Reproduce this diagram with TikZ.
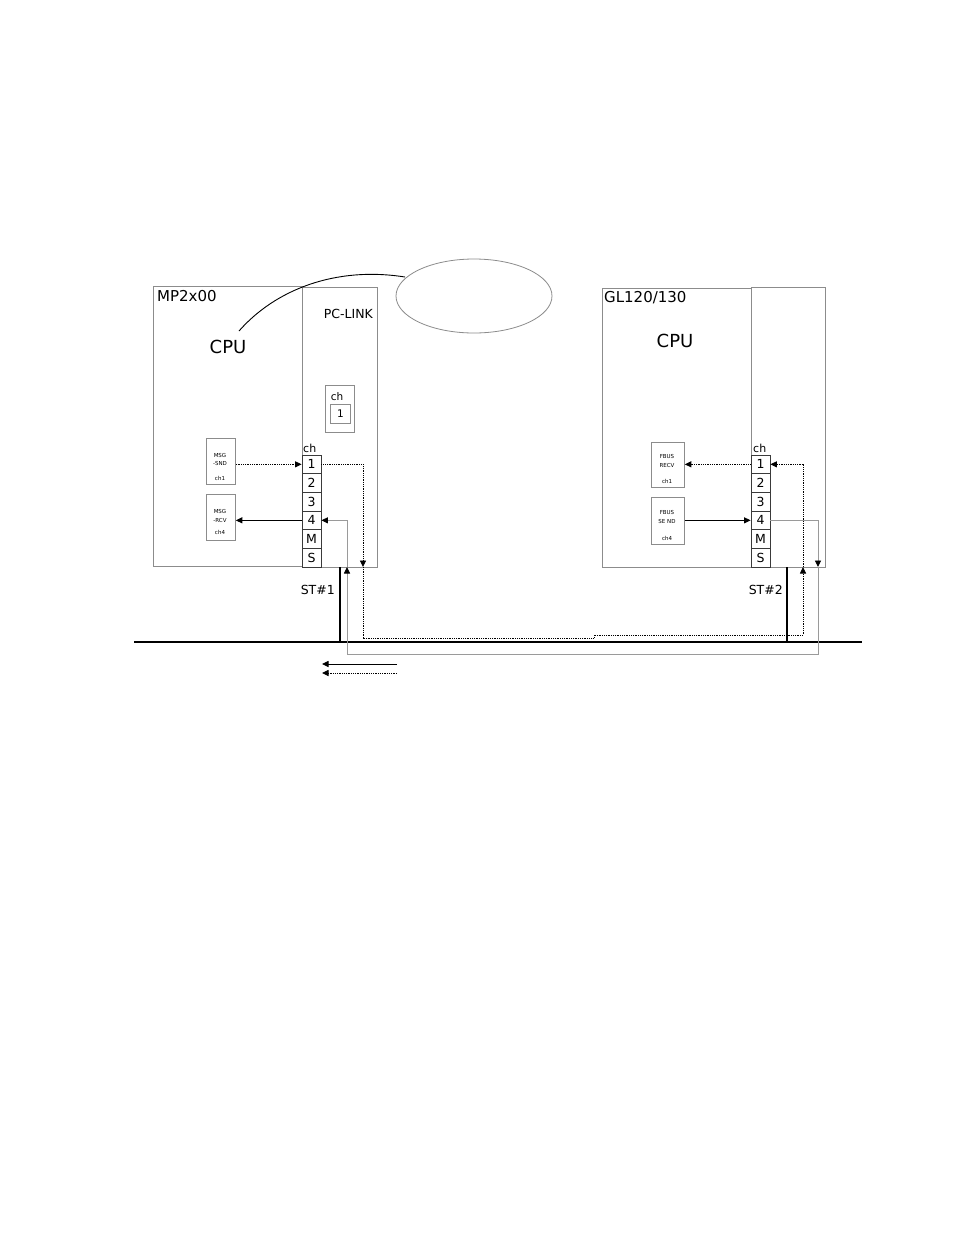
\documentclass[tikz,border=0pt]{standalone}
\usepackage{fontspec}
\setmainfont{DejaVu Sans}
\usetikzlibrary{arrows.meta}
\definecolor{boxgray}{HTML}{8C8C8C}
\definecolor{linegray}{HTML}{9A9A9A}
\definecolor{celldark}{HTML}{3A3A3A}
\begin{document}
\begin{tikzpicture}[x=1pt,y=-1pt,
  frame/.style={draw=boxgray, line width=0.9pt, inner sep=0pt, anchor=north west},
  slotcell/.style={draw=celldark, line width=0.8pt, minimum width=19pt, minimum height=18.67pt, inner sep=0pt, font=\fontsize{12.5}{12.5}\selectfont},
  fbox/.style={draw=boxgray, line width=0.8pt, inner sep=0pt, anchor=north west},
  tiny/.style={font=\fontsize{5.5}{5.5}\selectfont, inner sep=0pt},
  tip/.style={-{Triangle[length=6.5pt,width=6pt,color=black]}},
  dotline/.style={line width=0.9pt, dash pattern=on 0.9pt off 0.9pt},
  grayline/.style={draw=linegray, line width=0.9pt},
  thickline/.style={line width=2.3pt}
]
\path[fill=white] (0,0) rectangle (954,1235);
\useasboundingbox (0,0) rectangle (954,1235);

% main boxes
\node[frame, minimum width=149pt, minimum height=280pt] (mp) at (153,286) {};
\node[frame, minimum width=75pt, minimum height=280pt] (pcl) at (302,287) {};
\node[frame, minimum width=149pt, minimum height=279pt] (gl) at (602,288) {};
\node[frame, minimum width=74pt, minimum height=280pt] (rmod) at (751,287) {};

% titles
\node[anchor=base west, inner sep=0pt, font=\fontsize{15}{15}\selectfont] (tmp) at (157,301) {MP2x00};
\node[anchor=base east, inner sep=0pt, font=\fontsize{12.5}{12.5}\selectfont] (tpcl) at (373,318) {PC-LINK};
\node[anchor=base west, inner sep=0pt, font=\fontsize{15}{15}\selectfont] (tgl) at (604,302) {GL120/130};
\node[inner sep=0pt, font=\fontsize{18}{18}\selectfont] (cpuL) at (228,347) {CPU};
\node[inner sep=0pt, font=\fontsize{18}{18}\selectfont] (cpuR) at (675,341) {CPU};

% ellipse and curve
\draw[draw=boxgray, line width=0.8pt] (474,296) ellipse [x radius=78, y radius=37];
\coordinate (ellL) at (405,277);
\draw[line width=0.9pt] (239,331) .. controls (275,290) and (335,266) .. (ellL);

% small ch box in PC-LINK
\node[fbox, minimum width=29pt, minimum height=47pt] (chbox) at (325,385) {};
\node[anchor=base, inner sep=0pt, font=\fontsize{10.5}{10.5}\selectfont] (chbl) at (337,400) {ch};
\node[fbox, minimum width=20pt, minimum height=19pt] (chb1) at (330,404) {};
\node[inner sep=0pt, font=\fontsize{10.5}{10.5}\selectfont] (chb1t) at (chb1.center) {1};

% slot columns
\foreach \t [count=\i from 0] in {1,2,3,4,M,S}{
  \node[slotcell] (L\t) at (311.5,464.33+18.67*\i) {\t};
  \node[slotcell] (R\t) at (760.5,464.33+18.67*\i) {\t};
}
\node[anchor=base west, inner sep=0pt, font=\fontsize{11}{11}\selectfont] (chL) at (303,452) {ch};
\node[anchor=base west, inner sep=0pt, font=\fontsize{11}{11}\selectfont] (chR) at (753,452) {ch};

% function blocks
\node[fbox, minimum width=29pt, minimum height=46pt] (snd) at (206,438) {};
\node[tiny] (snd1) at (220,455) {MSG};
\node[tiny] (snd2) at (220,463) {-SND};
\node[tiny] (snd3) at (220,478) {ch1};
\node[fbox, minimum width=29pt, minimum height=46pt] (rcv) at (206,494) {};
\node[tiny] (rcv1) at (220,511) {MSG};
\node[tiny] (rcv2) at (220,520) {-RCV};
\node[tiny] (rcv3) at (220,532) {ch4};
\node[fbox, minimum width=33pt, minimum height=45pt] (recv) at (651,442) {};
\node[tiny] (recv1) at (667,456) {FBUS};
\node[tiny] (recv2) at (667,465) {RECV};
\node[tiny] (recv3) at (667,481) {ch1};
\node[fbox, minimum width=33pt, minimum height=47pt] (send) at (651,497) {};
\node[tiny] (send1) at (667,512) {FBUS};
\node[tiny] (send2) at (667,521) {SE ND};
\node[tiny] (send3) at (667,538) {ch4};

% local arrows
\draw[dotline, tip] (snd.east |- L1.west) -- (L1.west);
\draw[line width=0.9pt, tip] (L4.west) -- (rcv.east |- L4.west);
\draw[dotline, tip] (R1.west) -- (recv.east |- R1.west);
\draw[line width=0.9pt, tip] (send.east |- R4.west) -- (R4.west);

% bus and station drops
\coordinate (busL) at (134,642);
\coordinate (busR) at (862,642);
\draw[thickline] (busL) -- (busR);
\coordinate (st1) at (340,567);
\coordinate (st2) at (787,567);
\draw[thickline] (st1) -- (st1 |- busL);
\draw[thickline] (st2) -- (st2 |- busL);
\node[anchor=base east, inner sep=0pt, font=\fontsize{12.5}{12.5}\selectfont] (st1l) at (335,594) {ST\#1};
\node[anchor=base east, inner sep=0pt, font=\fontsize{12.5}{12.5}\selectfont] (st2l) at (783,594) {ST\#2};

% dotted route ch1 -> ch1
\coordinate (ldn) at (363,567);
\coordinate (rup) at (803,567);
\coordinate (j1) at (594,638);
\coordinate (j2) at (594,635);
\draw[dotline, tip] (L1.east) -| (ldn);
\draw[dotline, tip] (ldn) |- (j1) -- (j2) -| (rup);
\draw[dotline, tip] (rup) |- (R1.east);

% gray route ch4 -> ch4
\coordinate (rdn) at (818,567);
\coordinate (lup) at (347,567);
\coordinate (g1) at (818,654);
\draw[grayline, tip] (R4.east) -| (rdn);
\draw[grayline, tip] (rdn) -- (g1) -| (lup);
\draw[grayline, tip] (lup) |- (L4.east);

% legend
\coordinate (lg1a) at (397,664);
\coordinate (lg1b) at (322,664);
\coordinate (lg2a) at (397,673);
\coordinate (lg2b) at (322,673);
\draw[line width=0.9pt, tip] (lg1a) -- (lg1b);
\draw[dotline, tip] (lg2a) -- (lg2b);
\end{tikzpicture}
\end{document}
